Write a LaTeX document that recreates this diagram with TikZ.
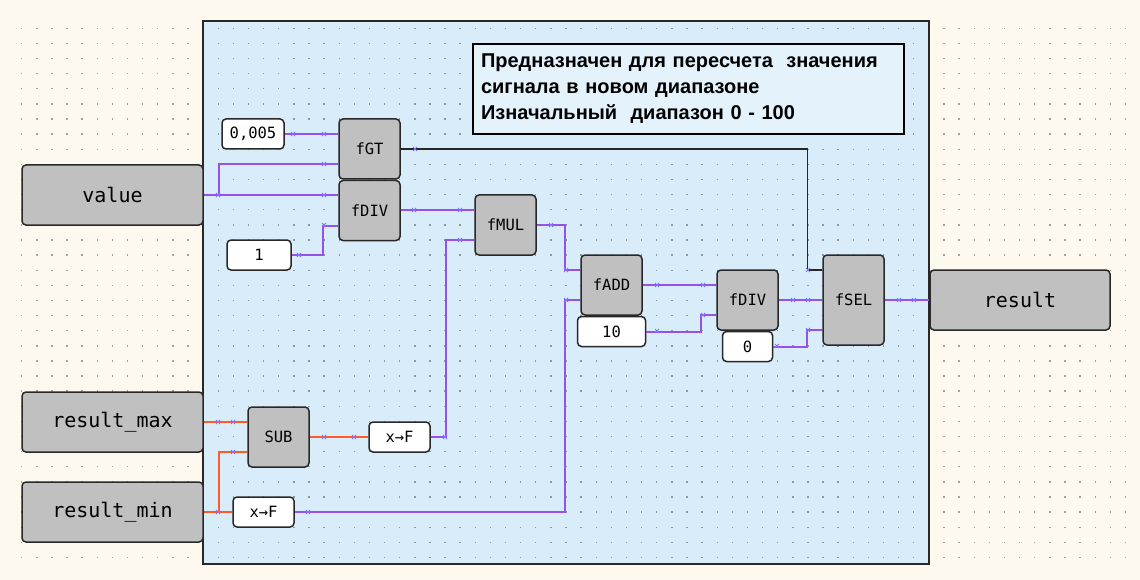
\documentclass[tikz,border=0pt]{standalone}
\usepackage{fontspec}
\setmainfont{Liberation Sans}
\setmonofont{DejaVu Sans Mono}
\usepackage{tikz}
\usetikzlibrary{positioning,calc}
\definecolor{sheetbg}{RGB}{254,249,238}
\definecolor{panelbg}{RGB}{217,236,250}
\definecolor{notebg}{RGB}{228,242,252}
\definecolor{blockgray}{RGB}{192,192,192}
\definecolor{edgegray}{RGB}{40,40,40}
\definecolor{wirereal}{RGB}{150,80,235}
\definecolor{wireint}{RGB}{255,90,40}
\definecolor{pinblue}{RGB}{125,120,255}

\begin{document}
\begin{tikzpicture}[x=1pt, y=-1pt,
  varbox/.style={draw=edgegray, line width=1.5pt, rounded corners=4pt, fill=blockgray, minimum width=181pt, minimum height=60pt, font=\ttfamily\fontsize{20}{24}\selectfont},
  fblock/.style={draw=edgegray, line width=1.5pt, rounded corners=4pt, fill=blockgray, minimum width=61pt, minimum height=60pt, inner sep=0pt, font=\ttfamily\fontsize{15.5}{18}\selectfont},
  constbox/.style={draw=edgegray, line width=1.5pt, rounded corners=4pt, fill=white, minimum height=30pt, inner sep=0pt, font=\ttfamily\fontsize{15.5}{18}\selectfont},
  wire/.style={draw=wirereal, line width=2pt},
  intwire/.style={draw=wireint, line width=2pt},
  boolwire/.style={draw=black!85, line width=1.5pt},
  pinmark/.style={draw=pinblue, line width=1pt}
]
\useasboundingbox (0,0) rectangle (1140,580);
\fill[sheetbg] (0,0) rectangle (1140,580);
\fill[panelbg] (203,21) rectangle (929,564);
\foreach \i in {0,...,73}
  \foreach \j in {0,...,35}
    \fill[black, opacity=0.35] ({21+15.12*\i},{27.6+15.12*\j}) rectangle ++(1.4,1.4);
\draw[edgegray, line width=2pt] (203,21) rectangle (929,564);

\node[draw=black, line width=2pt, fill=notebg, anchor=north west, text width=415pt, inner xsep=8pt, minimum height=90pt, align=left,
  font=\bfseries\fontsize{20}{26}\selectfont] (note) at (472,43)
  {Предназначен для пересчета\ \ значения\\сигнала в новом диапазоне\\Изначальный\ \ диапазон 0 - 100};

\node[varbox] (val) at (112.5,195) {value};
\node[varbox] (rmax) at (112.5,422) {result\_max};
\node[varbox] (rmin) at (112.5,512) {result\_min};
\node[varbox, minimum width=180pt] (res) at (1020,300) {result};

\node[fblock] (gt) at (369.5,149) {fGT};
\node[fblock, below=0pt of gt] (div1) {fDIV};
\node[fblock] (mul) at (505.5,225) {fMUL};
\node[fblock] (add) at (611.5,285) {fADD};
\node[fblock] (div2) at (747.5,300) {fDIV};
\node[fblock, minimum height=90pt] (sel) at (853.5,300) {fSEL};
\node[fblock] (sub) at (278.5,437) {SUB};

\node[constbox, minimum width=62pt] (k005) at (253,134) {0,005};
\node[constbox, minimum width=64pt] (k1) at (259,255) {1};
\node[constbox, minimum width=68pt, below=0pt of add] (k10) {10};
\node[constbox, minimum width=50pt, below=0pt of div2] (k0) {0};
\node[constbox, minimum width=61pt] (xf1) at (399.5,437) {x→F};
\node[constbox, minimum width=61pt] (xf2) at (263.5,512) {x→F};

\coordinate (gt-b) at ($(gt.west)+(0,15)$);
\coordinate (div1-b) at ($(div1.west)+(0,15)$);
\coordinate (mul-b) at ($(mul.west)+(0,15)$);
\coordinate (add-a) at ($(add.west)+(0,-15)$);
\coordinate (add-b) at ($(add.west)+(0,15)$);
\coordinate (div2-b) at ($(div2.west)+(0,15)$);
\coordinate (sel-a) at ($(sel.west)+(0,-30)$);
\coordinate (sel-c) at ($(sel.west)+(0,30)$);
\coordinate (sub-b) at ($(sub.west)+(0,15)$);
\coordinate (vj) at ($(val.east)+(15,0)$);
\coordinate (rj) at ($(rmin.east)+(15,0)$);

\draw[wire] (k005.east) -- (k005.east -| gt.west);
\draw[wire] (val.east) -- (val.east -| div1.west);
\draw[wire] (vj) |- (gt-b);
\draw[wire] (k1.east) -| ([xshift=-15pt]div1-b) -- (div1-b);
\draw[wire] (div1.east) -- (div1.east -| mul.west);
\draw[wire] (xf1.east) -- ([xshift=15pt]xf1.east) |- (mul-b);
\draw[wire] (mul.east) -| ([xshift=-15pt]add-a) -- (add-a);
\draw[wire] (xf2.east) -| ([xshift=-15pt]add-b) -- (add-b);
\draw[wire] (add.east) -- (add.east -| div2.west);
\draw[wire] (k10.east) -| ([xshift=-15pt]div2-b) -- (div2-b);
\draw[wire] (div2.east) -- (div2.east -| sel.west);
\draw[wire] (k0.east) -| ([xshift=-15pt]sel-c) -- (sel-c);
\draw[wire] (sel.east) -- (sel.east -| res.west);
\draw[boolwire] (gt.east) -| ([xshift=-15pt]sel-a) -- (sel-a);
\draw[intwire] (rmax.east) -- (rmax.east -| sub.west);
\draw[intwire] (rmin.east) -- (xf2.west);
\draw[intwire] (rj) |- (sub-b);
\draw[intwire] (sub.east) -- (xf1.west);

\foreach \p in {(293,134),(324,134),(218,195),(324,195),(324,164),(299,255),(324,225),
  (414,210),(460,210),(445,437),(460,240),(551,225),(566,270),(308,512),(566,300),
  (657,285),(703,285),(657,331),(703,315),(793,300),(808,300),(777,346),(808,330),
  (415,149),(808,270),(899,300),(914,300),(218,422),(233,422),(218,512),(233,452),
  (324,437),(354,437)}
  \draw[pinmark] \p +(-2,-2) -- +(2,2) +(-2,2) -- +(2,-2);
\end{tikzpicture}
\end{document}
